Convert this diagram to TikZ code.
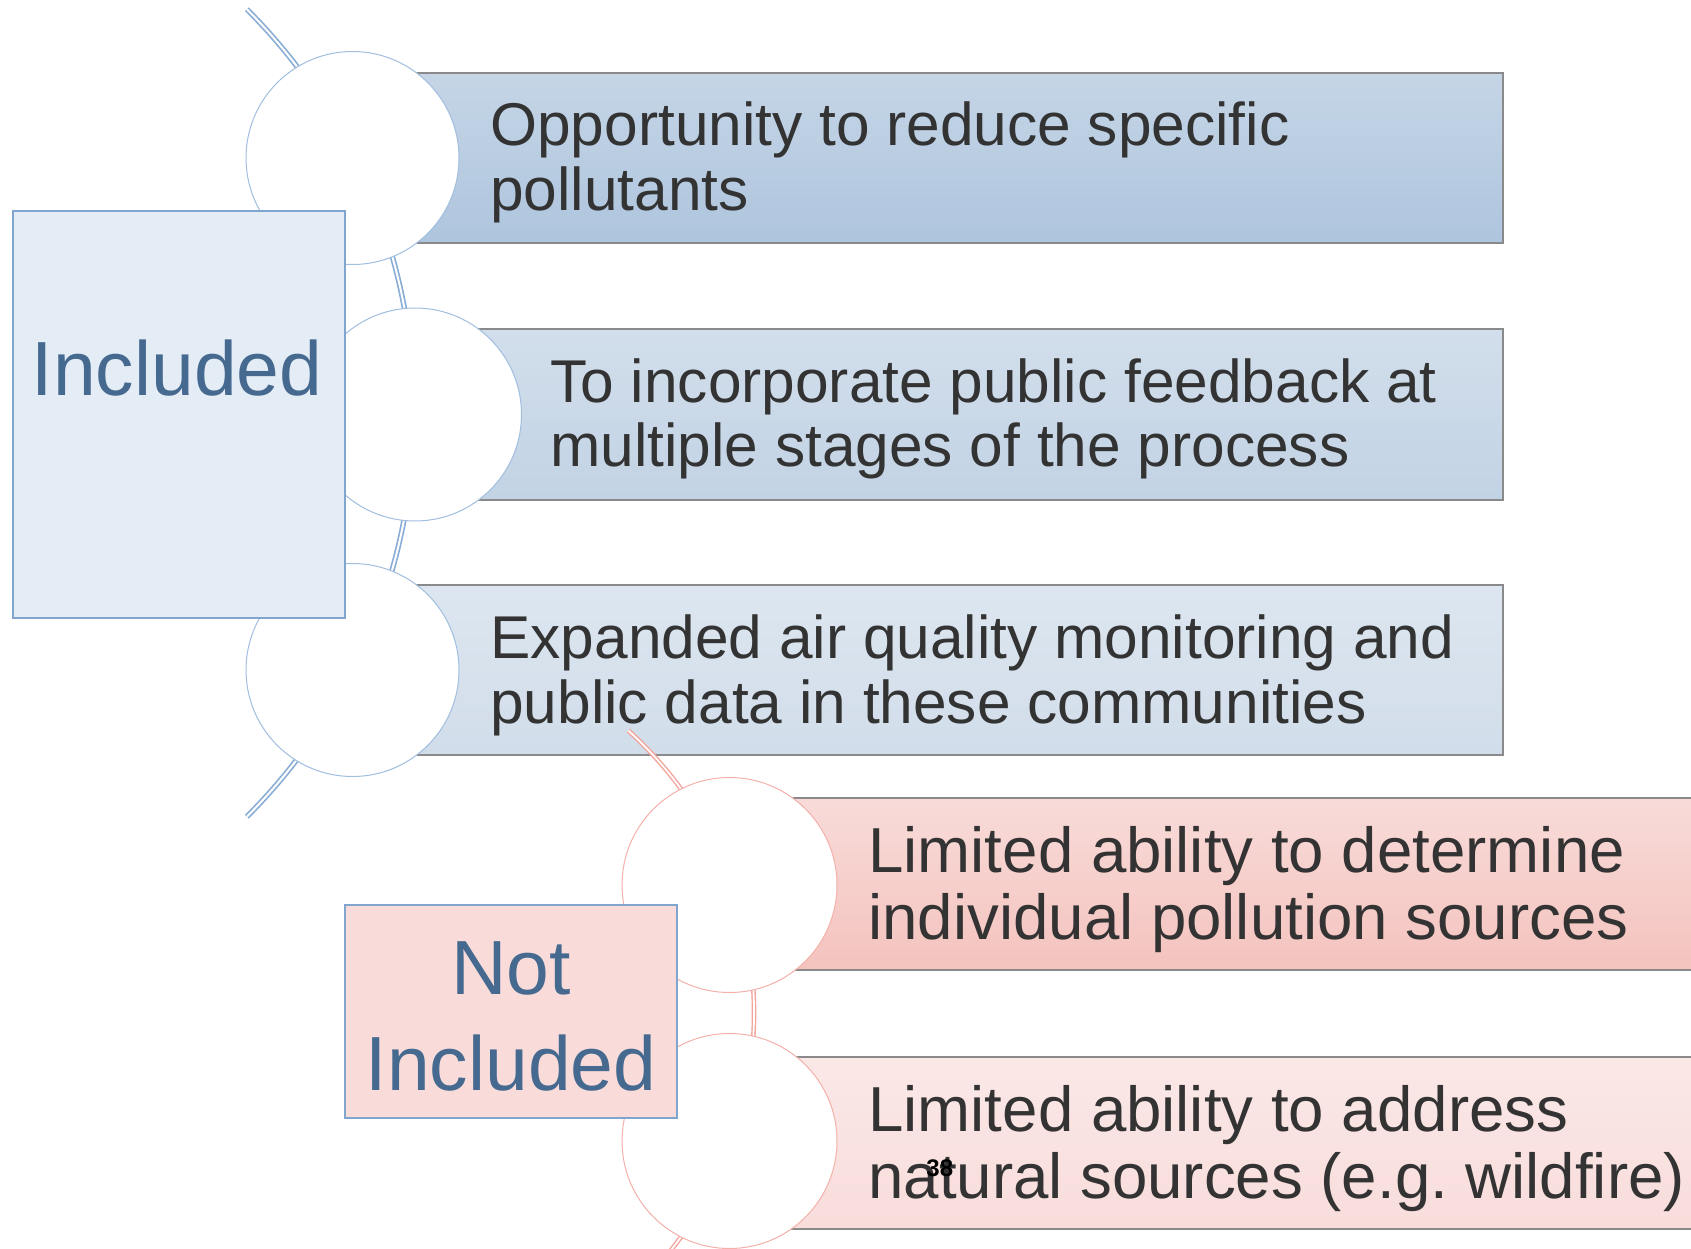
\documentclass[tikz,border=0pt]{standalone}
\usepackage{fontspec}
\setmainfont{Liberation Sans}
\frenchspacing
\definecolor{arcB}{HTML}{8AADD6}
\definecolor{arcR}{HTML}{F2A49C}
\definecolor{cirB}{HTML}{A0BEDF}
\definecolor{cirR}{HTML}{F4B0A9}
\definecolor{boxgray}{HTML}{8A8A8A}
\definecolor{lblB}{HTML}{45698F}
\definecolor{lblBorder}{HTML}{80A6D0}
\definecolor{txt}{HTML}{333333}
\definecolor{inclFill}{HTML}{E4ECF5}
\definecolor{notFill}{HTML}{F9DCDA}
\definecolor{bAt}{HTML}{C5D5E6}\definecolor{bAb}{HTML}{AEC5DE}
\definecolor{bBt}{HTML}{D2DEEB}\definecolor{bBb}{HTML}{C2D3E5}
\definecolor{bCt}{HTML}{DDE6F0}\definecolor{bCb}{HTML}{D1DDEA}
\definecolor{rAt}{HTML}{F8DBD9}\definecolor{rAb}{HTML}{F4C3BE}
\definecolor{rBt}{HTML}{FAE8E7}\definecolor{rBb}{HTML}{F8DDDB}
\begin{document}
\begin{tikzpicture}[x=0.5pt,y=-0.5pt,
  bluearc/.style={draw=arcB, double=white, line width=0.85pt, double distance=1pt},
  redarc/.style={draw=arcR, double=white, line width=0.7pt, double distance=0.9pt},
  itembox/.style={rectangle, draw=boxgray, line width=0.75pt, anchor=west, inner sep=0pt},
  bdisc/.style={circle, draw=cirB, fill=white, line width=0.5pt, minimum size=106.5pt, inner sep=0pt},
  rdisc/.style={circle, draw=cirR, fill=white, line width=0.5pt, minimum size=107.5pt, inner sep=0pt},
  btext/.style={anchor=base west, inner sep=0pt, text=txt, font=\fontsize{30.2}{36}\selectfont},
  rtext/.style={anchor=base west, inner sep=0pt, text=txt, font=\fontsize{31.8}{38}\selectfont},
  lbltext/.style={anchor=base, inner sep=0pt, text=lblB, font=\fontsize{38.4}{46}\selectfont},
  lblbox/.style={rectangle, draw=lblBorder, line width=1pt, inner sep=0pt}
]
\useasboundingbox (0,0) rectangle (1691,1248);
\clip (0,0) rectangle (1691,1248);

% ---------- Included group ----------
\draw[bluearc] (246.8,9.2) arc[start angle=-45, end angle=45, radius=571];

\node[itembox, top color=bAt, bottom color=bAb, minimum width=574.75pt, minimum height=85pt] (b1) at (352.5,158) {};
\node[itembox, top color=bBt, bottom color=bBb, minimum width=543.5pt, minimum height=85.5pt] (b2) at (415,414.5) {};
\node[itembox, top color=bCt, bottom color=bCb, minimum width=574.75pt, minimum height=85pt] (b3) at (352.5,670) {};

\node[bdisc] (c1) at (352.5,158) {};
\node[bdisc] (c2) at (415,414.5) {};
\node[bdisc] (c3) at (352.5,670) {};

\node[btext] (t1a) at (490,145) {Opportunity to reduce specific};
\node[btext] (t1b) at (490,210) {pollutants};
\node[btext] (t2a) at (550,402) {To incorporate public feedback at};
\node[btext] (t2b) at (550,466) {multiple stages of the process};
\node[btext] (t3a) at (490,658) {Expanded air quality monitoring and};
\node[btext] (t3b) at (490,723) {public data in these communities};

\node[lblbox, fill=inclFill, minimum width=166pt, minimum height=203.5pt] (incl) at (179,414.5) {};
\node[lbltext] (incltxt) at (177,395) {Included};

% ---------- Not Included group ----------
\draw[redarc] (628.3,730.6) arc[start angle=-48, end angle=48, radius=380];

\node[itembox, top color=rAt, bottom color=rAb, minimum width=495pt, minimum height=86pt] (b4) at (729.5,884) {};
\node[itembox, top color=rBt, bottom color=rBb, minimum width=495pt, minimum height=86pt] (b5) at (729.5,1143) {};

\node[rdisc] (c4) at (729.5,885) {};
\node[rdisc] (c5) at (729.5,1141) {};

\node[rtext] (t4a) at (868,872) {Limited ability to determine};
\node[rtext] (t4b) at (868,939) {individual pollution sources};
\node[rtext] (t5a) at (868,1131) {Limited ability to address};
\node[rtext] (t5b) at (868,1198) {natural sources (e.g. wildfire)};

\node[lblbox, fill=notFill, minimum width=166pt, minimum height=106.5pt] (notincl) at (511,1011.5) {};
\node[lbltext] (nottxt1) at (511,994) {Not};
\node[lbltext] (nottxt2) at (511,1090) {Included};

% slide number
\node[anchor=base west, inner sep=0pt, font=\bfseries\fontsize{12}{14}\selectfont] (num) at (926,1176) {38};
\end{tikzpicture}
\end{document}
